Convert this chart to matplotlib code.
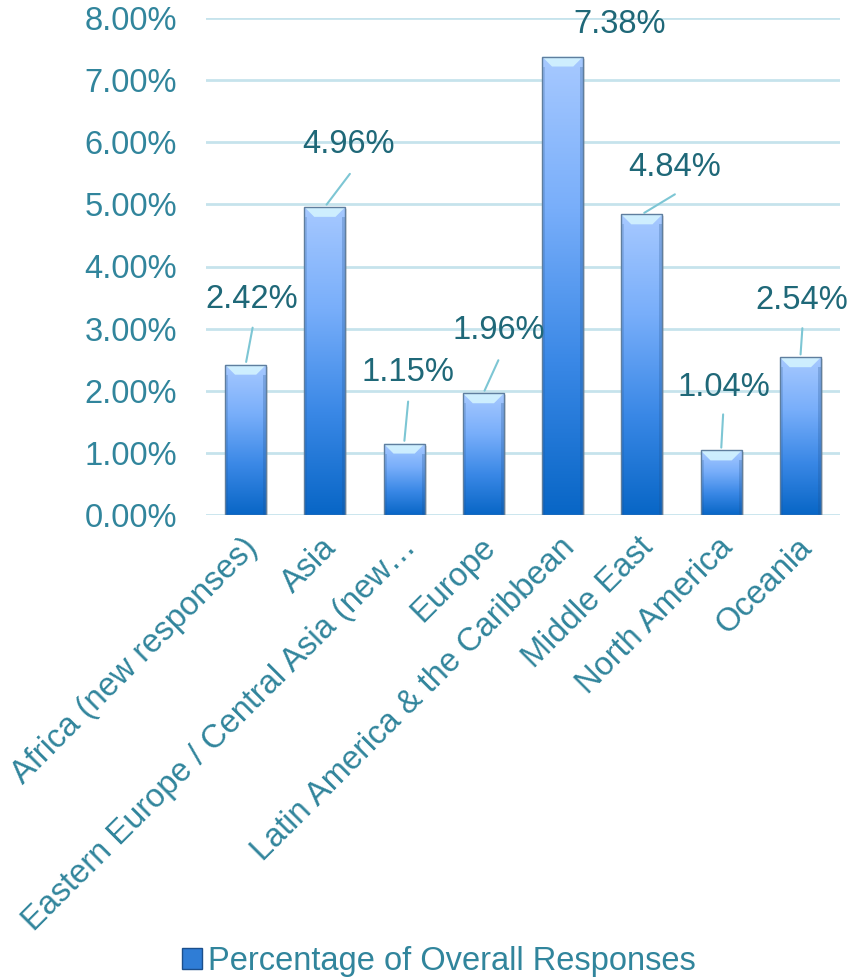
import numpy as np
import matplotlib
matplotlib.use("Agg")
import matplotlib.pyplot as plt
from matplotlib.colors import LinearSegmentedColormap
from matplotlib.patches import Rectangle, Polygon, Patch
from matplotlib.ticker import FuncFormatter
from matplotlib.transforms import ScaledTranslation

# data
regions = ["Africa (new responses)", "Asia", "Eastern Europe / Central Asia (new\u2026",
           "Europe", "Latin America & the Caribbean", "Middle East",
           "North America", "Oceania"]
values = [2.42, 4.96, 1.15, 1.96, 7.38, 4.84, 1.04, 2.54]
series_name = "Percentage of Overall Responses"

# label placement (pixels from bar top centre): text offset, leader line start
label_offsets = [(6, 65), (24, 62), (4, 71), (15, 63), (57, 32), (33, 47), (3, 63), (1, 57)]
leader_starts = [(7, 37), (25, 33), (4, 42), (15, 33), None, (33, 20), (2, 36), (2, 29)]

tick_color = "#31859C"
label_color = "#1F6878"
grid_color = "#C6E3EC"
leader_color = "#7DC6D4"

plt.rcParams["font.family"] = ["Liberation Sans", "DejaVu Sans"]
fs = 23.5

fig = plt.figure(figsize=(8.51, 9.8), dpi=100)
ax = fig.add_axes([206 / 851, 1 - 515 / 980, 634 / 851, 497 / 980])

n = len(values)
x = np.arange(n)
bw = 0.52
ax.set_xlim(-0.5, n - 0.5)
ax.set_ylim(0, 8)

# pixel sizes in data units
px_x = n / 634.0
px_y = 8 / 497.0

cmap = LinearSegmentedColormap.from_list(
    "barfill", ["#0866C6", "#3A88E6", "#78AEFA", "#A7C9FF"])
grad = np.linspace(0, 1, 256).reshape(-1, 1)

for xi, v in zip(x, values):
    left = xi - bw / 2
    # soft shadow
    ax.add_patch(Rectangle((left + 2 * px_x, -2 * px_y), bw, v, facecolor="#888888",
                           alpha=0.25, edgecolor="none", zorder=2))
    rect = Rectangle((left, 0), bw, v, facecolor="none", edgecolor="#5F7E9E",
                     linewidth=1.0, zorder=4)
    ax.add_patch(rect)
    im = ax.imshow(grad, cmap=cmap, origin="lower", aspect="auto",
                   extent=[left, left + bw, 0, v], zorder=3, interpolation="bilinear")
    im.set_clip_path(rect)
    # top bevel
    bx, by = 10 * px_x, 10 * px_y
    ax.add_patch(Polygon([(left, v), (left + bw, v), (left + bw - bx, v - by),
                          (left + bx, v - by)], closed=True, facecolor="#D3F3FF",
                         alpha=0.9, edgecolor="none", zorder=3.5))
    # side shading
    ax.add_patch(Rectangle((left, 0), 3 * px_x, v - by, facecolor="#1E4F8A",
                           alpha=0.18, edgecolor="none", zorder=3.5))
    ax.add_patch(Rectangle((left + bw - 3 * px_x, 0), 3 * px_x, v - by,
                           facecolor="#1E4F8A", alpha=0.25, edgecolor="none", zorder=3.5))

for xi, v, off, st in zip(x, values, label_offsets, leader_starts):
    ax.annotate(f"{v:.2f}%", xy=(xi, v), xytext=off, textcoords="offset pixels",
                ha="center", va="center", fontsize=fs, color=label_color,
                annotation_clip=False, zorder=6)
    if st is not None:
        ax.annotate("", xy=(xi, v), xytext=st, textcoords="offset pixels",
                    arrowprops=dict(arrowstyle="-", color=leader_color, lw=1.5,
                                    shrinkA=0, shrinkB=2),
                    annotation_clip=False, zorder=5)

ax.set_yticks(np.arange(0, 9, 1))
ax.yaxis.set_major_formatter(FuncFormatter(lambda val, pos: f"{val:.2f}%"))
ax.grid(axis="y", color=grid_color, linewidth=2)
ax.set_axisbelow(True)
for s in ax.spines.values():
    s.set_visible(False)
ax.tick_params(axis="y", length=0, pad=21, labelsize=fs, labelcolor=tick_color)
ax.tick_params(axis="x", length=0, pad=20, labelsize=fs, labelcolor=tick_color)
ax.set_xticks(x)
ax.set_xticklabels(regions, rotation=45, ha="right", va="center", rotation_mode="anchor")
shift = ScaledTranslation(7 / 100, 0, fig.dpi_scale_trans)
for lab in ax.get_xticklabels():
    lab.set_transform(lab.get_transform() + shift)

handle = Patch(facecolor="#2F7DD6", edgecolor="#1B4F8C", linewidth=1)
fig.legend(handles=[handle], labels=[series_name], loc="lower center",
           bbox_to_anchor=(0.516, -0.017), frameon=False, fontsize=fs,
           labelcolor=tick_color, handlelength=0.6, handleheight=0.6,
           handletextpad=0.2, borderaxespad=0.2)

fig.savefig("out.png", dpi=100)
